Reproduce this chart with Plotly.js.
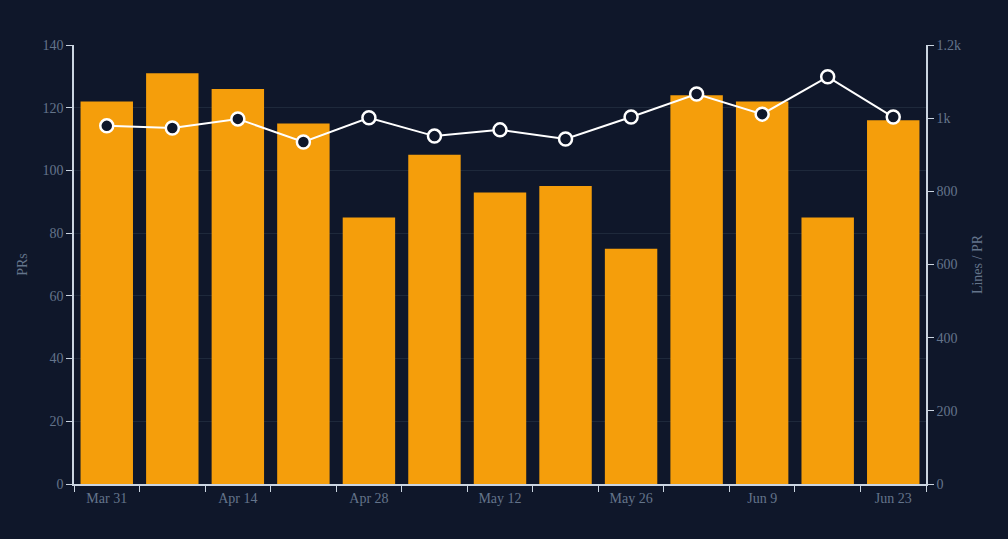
<!DOCTYPE html>
<html>
<head>
<meta charset="utf-8">
<script src="https://cdn.plot.ly/plotly-3.0.1.min.js"></script>
<style>
	html, body { margin: 0; padding: 0; background: #0f172a; }
	#chart { width: 1008px; height: 539px; }
</style>
</head>
<body>
<div id="chart"></div>
<script>
// weekly buckets
var weeks = ['Mar 31', 'Apr 7', 'Apr 14', 'Apr 21', 'Apr 28', 'May 5', 'May 12',
	'May 19', 'May 26', 'Jun 2', 'Jun 9', 'Jun 16', 'Jun 23'];
var prCounts = [122, 131, 126, 115, 85, 105, 93, 95, 75, 124, 122, 85, 116];
var linesPerPr = [979, 973, 998, 935, 1001, 951, 968, 943, 1003, 1066, 1011, 1113, 1003];
// only every other week gets a label
var weekLabels = weeks.map(function(w, i) { return i % 2 === 0 ? w : ''; });

var bg = '#0f172a';
var axisCol = '#cbd5e1';
var textCol = '#64748b';
var gridCol = '#1e293b';

var bars = {
	type: 'bar',
	name: 'PRs',
	x: weeks,
	y: prCounts,
	marker: { color: '#f59e0b' },
	hovertemplate: '%{x}: %{y} PRs<extra></extra>'
};

var line = {
	type: 'scatter',
	mode: 'lines+markers',
	name: 'Lines / PR',
	x: weeks,
	y: linesPerPr,
	yaxis: 'y2',
	line: { color: '#ffffff', width: 2 },
	marker: { size: 13, color: bg, line: { color: '#ffffff', width: 2.5 } },
	hovertemplate: '%{x}: %{y} lines/PR<extra></extra>'
};

var layout = {
	width: 1008,
	height: 539,
	paper_bgcolor: bg,
	plot_bgcolor: bg,
	showlegend: false,
	bargap: 0.2,
	font: { family: 'Liberation Serif, serif', size: 14, color: textCol },
	margin: { l: 74, r: 82, t: 45, b: 55 },
	xaxis: {
		type: 'category',
		range: [-0.5, weeks.length - 0.5],
		tickvals: weeks,
		ticktext: weekLabels,
		tickson: 'boundaries',
		ticks: 'outside',
		ticklen: 6,
		tickcolor: axisCol,
		showline: true,
		linecolor: axisCol,
		linewidth: 1.5,
		showgrid: false,
		tickfont: { color: textCol, size: 14 }
	},
	yaxis: {
		title: { text: 'PRs', font: { color: textCol, size: 14 }, standoff: 12 },
		range: [0, 140],
		dtick: 20,
		ticks: 'outside',
		ticklen: 6,
		tickcolor: axisCol,
		showline: true,
		linecolor: axisCol,
		linewidth: 1.5,
		gridcolor: gridCol,
		zeroline: false,
		tickfont: { color: textCol, size: 14 }
	},
	yaxis2: {
		title: { text: 'Lines / PR', font: { color: textCol, size: 14 }, standoff: 12 },
		overlaying: 'y',
		side: 'right',
		range: [0, 1200],
		dtick: 200,
		tickformat: '~s',
		ticks: 'outside',
		ticklen: 6,
		tickcolor: axisCol,
		showline: true,
		linecolor: axisCol,
		linewidth: 1.5,
		showgrid: false,
		zeroline: false,
		tickfont: { color: textCol, size: 14 }
	}
};

Plotly.newPlot('chart', [bars, line], layout, { displayModeBar: false, responsive: false });
</script>
</body>
</html>
